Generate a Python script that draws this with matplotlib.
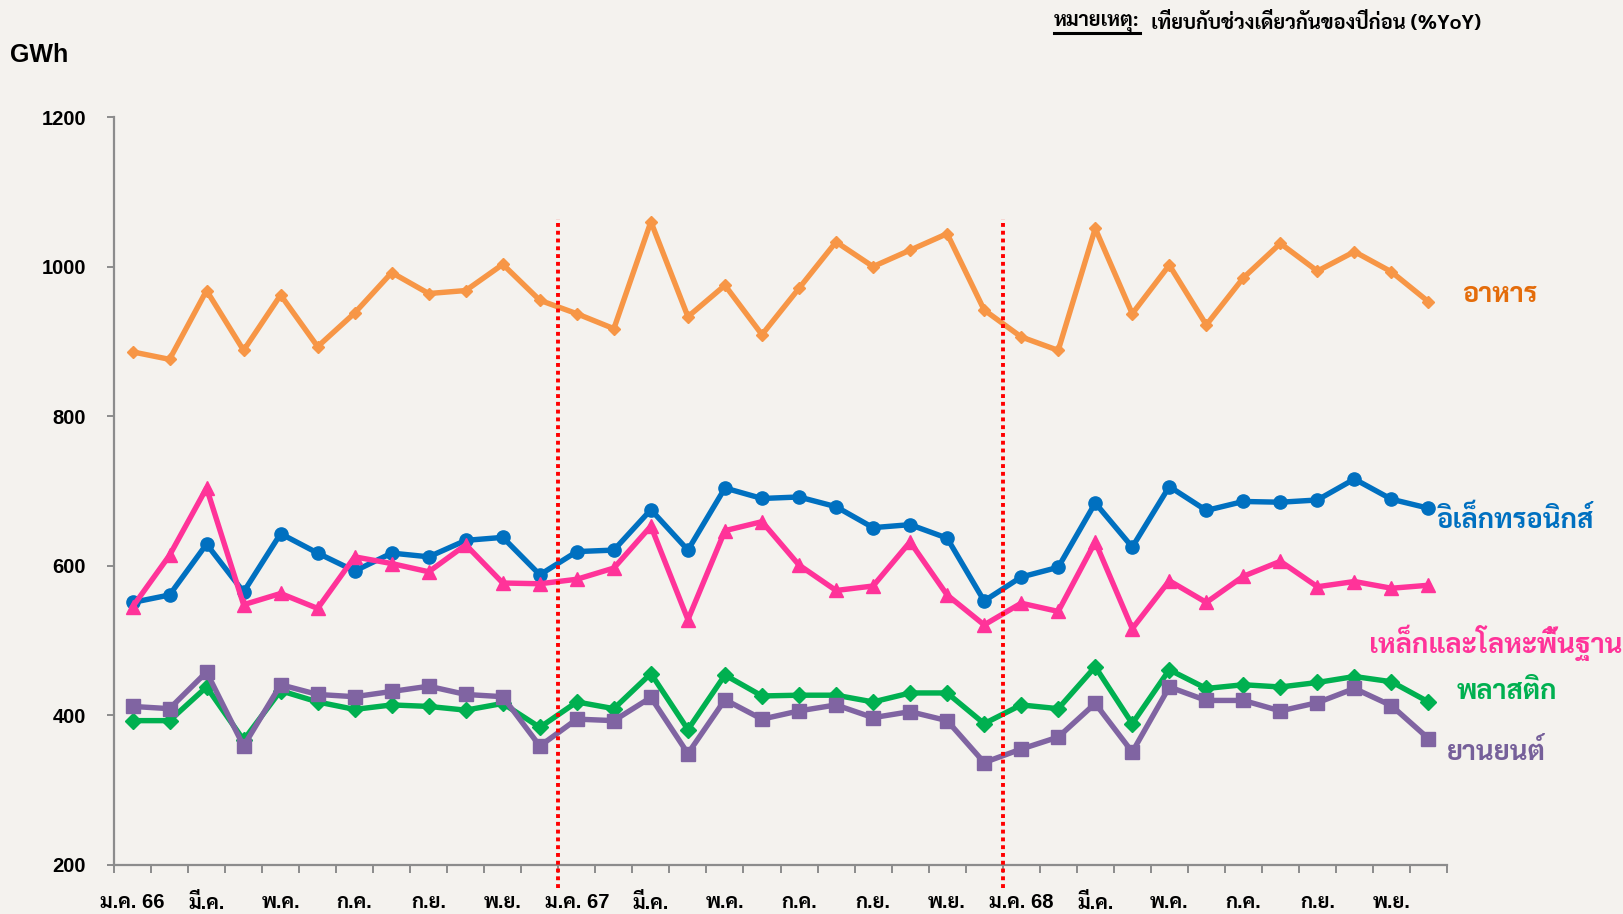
import matplotlib
matplotlib.use("Agg")
import matplotlib.pyplot as plt
from matplotlib import font_manager as fm
from matplotlib.ft2font import FT2Font
from matplotlib.lines import Line2D
import numpy as np

# ---------------- data ----------------
months = list(range(36))  # ม.ค. 66 ... ธ.ค. 68
tick_labels = ["ม.ค. 66", "มี.ค.", "พ.ค.", "ก.ค.", "ก.ย.", "พ.ย.",
               "ม.ค. 67", "มี.ค.", "พ.ค.", "ก.ค.", "ก.ย.", "พ.ย.",
               "ม.ค. 68", "มี.ค.", "พ.ค.", "ก.ค.", "ก.ย.", "พ.ย."]
year_breaks = [11.5, 23.5]

food = [886, 876, 968, 888, 962, 893, 938, 992, 964, 968, 1003, 955,
        937, 917, 1060, 933, 975, 909, 971, 1033, 1000, 1022, 1044, 942,
        906, 888, 1051, 937, 1002, 922, 985, 1031, 994, 1020, 993, 953]
electronics = [551, 561, 629, 565, 643, 617, 593, 617, 612, 634, 638, 588,
               619, 621, 675, 621, 704, 690, 692, 679, 651, 655, 637, 553,
               585, 598, 684, 625, 706, 674, 686, 685, 688, 716, 689, 677]
steel = [545, 614, 704, 548, 563, 543, 612, 603, 592, 628, 577, 576,
         582, 597, 653, 528, 647, 659, 601, 567, 573, 632, 561, 521,
         550, 539, 632, 516, 580, 551, 586, 606, 572, 579, 570, 574]
plastic = [393, 393, 438, 367, 433, 418, 408, 414, 412, 407, 416, 384,
           418, 409, 456, 381, 454, 426, 427, 427, 418, 430, 430, 389,
           414, 409, 465, 389, 461, 436, 441, 438, 444, 452, 445, 418]
auto = [412, 409, 458, 359, 441, 428, 425, 432, 439, 428, 425, 359,
        395, 393, 424, 349, 421, 395, 406, 414, 397, 405, 393, 337,
        355, 371, 416, 351, 438, 420, 420, 406, 417, 436, 413, 369]

series_names = ["อาหาร", "อิเล็กทรอนิกส์", "เหล็กและโลหะพื้นฐาน", "พลาสติก", "ยานยนต์"]

# ---------------- fonts ----------------
avail = {}
for f in fm.fontManager.ttflist:
    avail.setdefault(f.name, []).append(f)


def has_thai(fam):
    for f in avail.get(fam, []):
        try:
            if 0x0E01 in FT2Font(f.fname).get_charmap():
                return True
        except Exception:
            pass
    return False


thai_font = None
for cand in ["Sarabun", "Noto Sans Thai Looped", "IBM Plex Sans Thai Looped",
             "Noto Sans Thai", "IBM Plex Sans Thai", "Bai Jamjuree", "Chakra Petch", "Athiti"]:
    if cand in avail and has_thai(cand):
        thai_font = cand
        break
latin_font = "Liberation Sans" if "Liberation Sans" in avail else "DejaVu Sans"
fam_mix = [latin_font] + ([thai_font] if thai_font else []) + ["DejaVu Sans"]
fam_thai = ([thai_font] if thai_font else []) + [latin_font, "DejaVu Sans"]
plt.rcParams["font.family"] = fam_mix

# ---------------- figure ----------------
W, H = 1623, 914
bg = "#F4F2EE"
fig = plt.figure(figsize=(W / 100, H / 100), dpi=100, facecolor=bg)
ax = fig.add_axes([114 / W, 1 - 865 / H, (1447 - 114) / W, (865 - 117) / H])
ax.set_facecolor(bg)

lw = 3.9
ax.plot(months, food, color="#F79646", lw=lw, marker="D", ms=6.5, zorder=3)
ax.plot(months, electronics, color="#0070C0", lw=lw, marker="o", ms=9.5, zorder=4)
ax.plot(months, steel, color="#FF3399", lw=lw, marker="^", ms=9.5, zorder=5)
ax.plot(months, plastic, color="#00B050", lw=lw, marker="D", ms=8, zorder=6)
ax.plot(months, auto, color="#8064A2", lw=lw, marker="s", ms=10, zorder=7)

for xb in year_breaks:
    ax.axvline(xb, ymin=-0.031, ymax=0.864, color="#FF0000", lw=2.8,
               linestyle=(0, (1, 1)), clip_on=False, zorder=10)

ax.set_xlim(-0.5, 35.5)
ax.set_ylim(200, 1200)
ax.set_yticks(np.arange(200, 1201, 200))
ax.set_xticks(months[::2])
ax.set_xticklabels(tick_labels)
ax.set_xticks(np.arange(-0.5, 36, 1), minor=True)

for s in ["top", "right"]:
    ax.spines[s].set_visible(False)
for s in ["left", "bottom"]:
    ax.spines[s].set_color("#8C8C8C")
    ax.spines[s].set_linewidth(1.6)

ax.tick_params(axis="y", which="major", direction="out", length=5, width=1.4,
               color="#8C8C8C", pad=15, labelsize=14.5)
ax.tick_params(axis="x", which="major", length=0, pad=20, labelsize=14.5)
ax.tick_params(axis="x", which="minor", direction="out", length=6, width=1.4,
               color="#8C8C8C")
for lab in ax.get_yticklabels():
    lab.set_fontweight("bold")
for lab in ax.get_xticklabels():
    lab.set_fontweight("bold")
    lab.set_family(fam_mix)

# unit label
fig.text(10 / W, 1 - 55 / H, "GWh", fontsize=18, fontweight="bold",
         va="center", ha="left", family=fam_mix)

# series labels at the right end
label_specs = [
    (series_names[0], "#E46C0A", 1462, 295),
    (series_names[1], "#0070C0", 1436, 520),
    (series_names[2], "#FF3399", 1369, 643),
    (series_names[3], "#00B050", 1457, 692),
    (series_names[4], "#76609A", 1447, 753),
]
for txt, col, xp, yp in label_specs:
    fig.text(xp / W, 1 - yp / H, txt, color=col, fontsize=19.7, fontweight="bold",
             va="center", ha="left", family=fam_thai)

# note at top with underlined heading
t1 = fig.text(1054 / W, 1 - 23 / H, "หมายเหตุ:", fontsize=14.5, fontweight="bold",
              va="center", ha="left", family=fam_thai)
fig.canvas.draw()
r = fig.canvas.get_renderer()
bb = t1.get_window_extent(r)
fig.text((bb.x1 + 11) / W, 1 - 23 / H, "เทียบกับช่วงเดียวกันของปีก่อน (%YoY)", fontsize=14.5,
         fontweight="bold", va="center", ha="left", family=fam_thai)
uy = (1 - 33 / H)
fig.add_artist(Line2D([bb.x0 / W, bb.x1 / W], [uy, uy], color="black", lw=2.2,
                      transform=fig.transFigure))

fig.savefig("out.png", dpi=100, facecolor=bg)
